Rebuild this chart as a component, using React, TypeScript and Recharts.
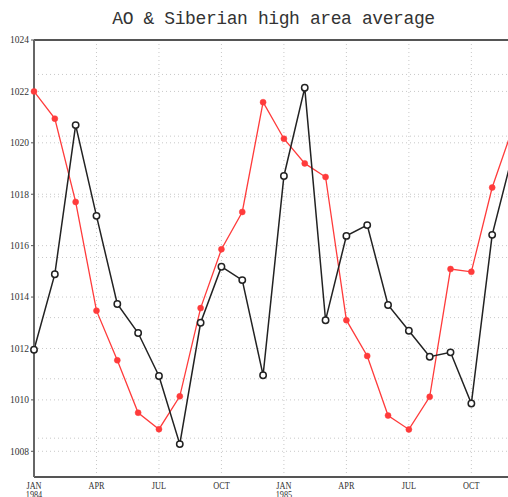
import { LineChart, Line, XAxis, YAxis, CartesianGrid, ReferenceLine } from 'recharts';

// monthly values, Jan 1984 .. Dec 1985
const monthIndex = [0, 1, 2, 3, 4, 5, 6, 7, 8, 9, 10, 11, 12, 13, 14, 15, 16, 17, 18, 19, 20, 21, 22, 23];
const aoSeries = [
  1022.0, 1020.94, 1017.7, 1013.47, 1011.54, 1009.5, 1008.86, 1010.14, 1013.57, 1015.86, 1017.31, 1021.58,
  1020.16, 1019.2, 1018.67, 1013.1, 1011.71, 1009.39, 1008.85, 1010.12, 1015.09, 1014.98, 1018.26, 1020.6,
];
const shSeries = [
  1011.95, 1014.89, 1020.69, 1017.16, 1013.73, 1012.6, 1010.93, 1008.28, 1013.0, 1015.18, 1014.66, 1010.96,
  1018.71, 1022.14, 1013.1, 1016.38, 1016.8, 1013.69, 1012.69, 1011.68, 1011.85, 1009.86, 1016.42, 1019.6,
];

const xTicks = [0, 3, 6, 9, 12, 15, 18, 21];
const xTickLabels = ['JAN', 'APR', 'JUL', 'OCT', 'JAN', 'APR', 'JUL', 'OCT'];
const xTickYears = ['1984', '', '', '', '1985', '', '', ''];
const yTicks = [1008, 1010, 1012, 1014, 1016, 1018, 1020, 1022, 1024];
const extraGrid = [1008.51, 1010.82, 1013.2, 1015.54, 1017.9, 1020.26, 1022.66];

const data = monthIndex.map((i, k) => ({ i, ao: aoSeries[k], sh: shSeries[k] }));

const RED = '#ff3b3b';
const BLACK = '#222';
const GRID = '#c8c8c8';

function XTick({ x, y, payload }: any) {
  const k = xTicks.indexOf(payload.value);
  return (
    <g transform={`translate(${x},${y})`}>
      <text transform="scale(0.75,1)" textAnchor="middle" fontFamily="Liberation Serif" fontSize={11} fill="#333">
        <tspan x={0} y={12}>{xTickLabels[k]}</tspan>
        {xTickYears[k] && <tspan x={0} y={21.5}>{xTickYears[k]}</tspan>}
      </text>
    </g>
  );
}

function HollowDot({ cx, cy }: any) {
  return <circle cx={cx} cy={cy} r={3.2} fill="#fff" stroke={BLACK} strokeWidth={1.5} />;
}

export default function App() {
  return (
    <div style={{ position: 'absolute', left: 0, top: 0, width: 508, height: 497, overflow: 'hidden', background: '#fff' }}>
      <div
        style={{
          position: 'absolute', left: 34, width: 479, top: 7, textAlign: 'center',
          fontFamily: 'Liberation Mono', fontSize: 18, letterSpacing: -0.4, color: '#333', lineHeight: '24px',
        }}
      >
        AO &amp; Siberian high area average
      </div>
      <LineChart width={540} height={497} data={data} margin={{ top: 40, right: 27, left: 0, bottom: 0 }}>
        <CartesianGrid stroke={GRID} strokeDasharray="1 3" />
        {extraGrid.map((v) => (
          <ReferenceLine key={v} y={v} stroke={GRID} strokeDasharray="1 3" />
        ))}
        <XAxis
          dataKey="i"
          type="number"
          domain={[0, 23]}
          ticks={xTicks}
          height={20}
          tick={<XTick />}
          tickLine={false}
          tickSize={0}
          tickMargin={0}
          axisLine={{ stroke: '#555', strokeWidth: 2 }}
        />
        <YAxis
          type="number"
          domain={[1007, 1024]}
          ticks={yTicks}
          width={34}
          tickSize={3}
          tickMargin={2}
          tick={{ fontSize: 9.5, fontFamily: 'Liberation Serif', fill: '#333' }}
          tickLine={{ stroke: '#555' }}
          axisLine={{ stroke: '#666', strokeWidth: 2 }}
        />
        <ReferenceLine y={1024} stroke="#555" strokeWidth={2} />
        <Line
          dataKey="ao"
          stroke={RED}
          strokeWidth={1.3}
          dot={{ r: 3, fill: RED, stroke: RED, strokeWidth: 0.5 }}
          isAnimationActive={false}
        />
        <Line dataKey="sh" stroke={BLACK} strokeWidth={1.5} dot={<HollowDot />} isAnimationActive={false} />
      </LineChart>
    </div>
  );
}
